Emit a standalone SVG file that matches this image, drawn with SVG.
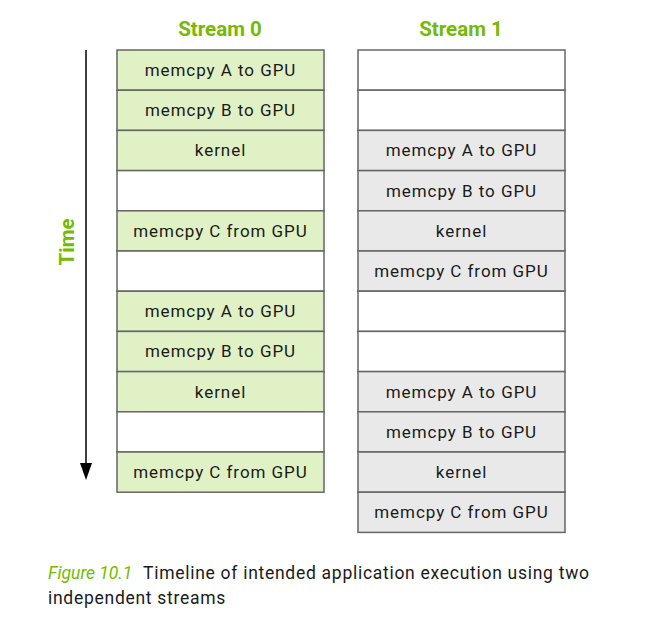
<svg xmlns="http://www.w3.org/2000/svg" width="666" height="639" viewBox="0 0 666 639">
<style>
.g{fill:#dff1c5;stroke:#666;stroke-width:1.5}
.w{fill:#fff;stroke:#666;stroke-width:1.5}
.s{fill:#e9e9e9;stroke:#666;stroke-width:1.5}
.t{font-family:Roboto,"Liberation Sans",sans-serif;font-size:17px;letter-spacing:0.95px;fill:#1a1a1a;text-anchor:middle}
.h{font-family:Roboto,"Liberation Sans",sans-serif;font-size:20.5px;font-weight:bold;fill:#76b900;text-anchor:middle}
.c{font-family:Roboto,"Liberation Sans",sans-serif;font-size:17.5px;letter-spacing:0.72px;fill:#1a1a1a}
</style>
<text class="h" x="220" y="36">Stream 0</text>
<text class="h" x="461" y="36">Stream 1</text>
<g id="connectors"><line x1="86" y1="50" x2="86" y2="466" stroke="#000" stroke-width="1.5"/><polygon points="80,463 92,463 86,480" fill="#000"/></g>
<text class="h" transform="translate(74,242) rotate(-90)">Time</text>
<g id="s0">
<g id="s0r0"><rect class="g" x="117" y="50" width="207" height="40.2"/><text class="t" x="220.5" y="76">memcpy A to GPU</text></g>
<g id="s0r1"><rect class="g" x="117" y="90.2" width="207" height="40.2"/><text class="t" x="220.5" y="116.2">memcpy B to GPU</text></g>
<g id="s0r2"><rect class="g" x="117" y="130.4" width="207" height="40.2"/><text class="t" x="220.5" y="156.4">kernel</text></g>
<g id="s0r3"><rect class="w" x="117" y="170.6" width="207" height="40.2"/></g>
<g id="s0r4"><rect class="g" x="117" y="210.8" width="207" height="40.2"/><text class="t" x="220.5" y="236.8">memcpy C from GPU</text></g>
<g id="s0r5"><rect class="w" x="117" y="251" width="207" height="40.2"/></g>
<g id="s0r6"><rect class="g" x="117" y="291.2" width="207" height="40.2"/><text class="t" x="220.5" y="317.2">memcpy A to GPU</text></g>
<g id="s0r7"><rect class="g" x="117" y="331.4" width="207" height="40.2"/><text class="t" x="220.5" y="357.4">memcpy B to GPU</text></g>
<g id="s0r8"><rect class="g" x="117" y="371.6" width="207" height="40.2"/><text class="t" x="220.5" y="397.6">kernel</text></g>
<g id="s0r9"><rect class="w" x="117" y="411.8" width="207" height="40.2"/></g>
<g id="s0r10"><rect class="g" x="117" y="452" width="207" height="40.2"/><text class="t" x="220.5" y="478">memcpy C from GPU</text></g>
</g>
<g id="s1">
<g id="s1r0"><rect class="w" x="358" y="50" width="207" height="40.2"/></g>
<g id="s1r1"><rect class="w" x="358" y="90.2" width="207" height="40.2"/></g>
<g id="s1r2"><rect class="s" x="358" y="130.4" width="207" height="40.2"/><text class="t" x="461.5" y="156.4">memcpy A to GPU</text></g>
<g id="s1r3"><rect class="s" x="358" y="170.6" width="207" height="40.2"/><text class="t" x="461.5" y="196.6">memcpy B to GPU</text></g>
<g id="s1r4"><rect class="s" x="358" y="210.8" width="207" height="40.2"/><text class="t" x="461.5" y="236.8">kernel</text></g>
<g id="s1r5"><rect class="s" x="358" y="251" width="207" height="40.2"/><text class="t" x="461.5" y="277">memcpy C from GPU</text></g>
<g id="s1r6"><rect class="w" x="358" y="291.2" width="207" height="40.2"/></g>
<g id="s1r7"><rect class="w" x="358" y="331.4" width="207" height="40.2"/></g>
<g id="s1r8"><rect class="s" x="358" y="371.6" width="207" height="40.2"/><text class="t" x="461.5" y="397.6">memcpy A to GPU</text></g>
<g id="s1r9"><rect class="s" x="358" y="411.8" width="207" height="40.2"/><text class="t" x="461.5" y="437.8">memcpy B to GPU</text></g>
<g id="s1r10"><rect class="s" x="358" y="452" width="207" height="40.2"/><text class="t" x="461.5" y="478">kernel</text></g>
<g id="s1r11"><rect class="s" x="358" y="492.2" width="207" height="40.2"/><text class="t" x="461.5" y="518.2">memcpy C from GPU</text></g>
</g>
<text class="c" x="48" y="579" font-style="italic" style="fill:#76b900;letter-spacing:0">Figure 10.1</text>
<text class="c" x="143" y="579">Timeline of intended application execution using two</text>
<text class="c" x="48" y="604">independent streams</text>
</svg>
